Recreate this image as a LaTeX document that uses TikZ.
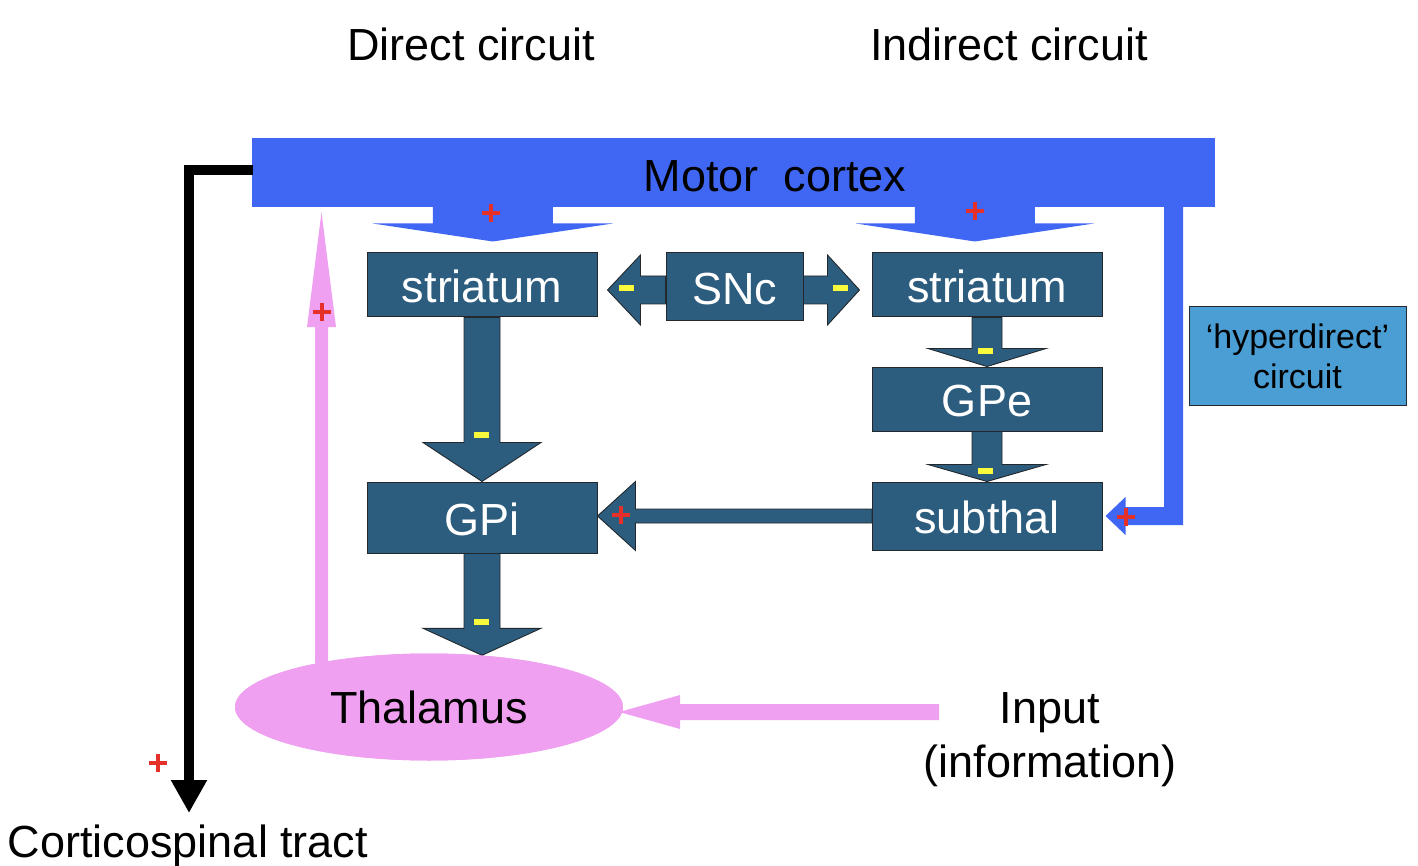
\documentclass[tikz,border=0pt]{standalone}
\usepackage{fontspec}
\setmainfont{Liberation Sans}
\usetikzlibrary{calc,shapes.geometric,arrows.meta}
\definecolor{ctxblue}{RGB}{64,103,244}
\definecolor{tealbox}{RGB}{45,93,126}
\definecolor{edgec}{RGB}{35,40,45}
\definecolor{pinkc}{RGB}{240,160,240}
\definecolor{hypblue}{RGB}{74,158,212}
\definecolor{plusred}{RGB}{228,48,40}
\definecolor{minusyel}{RGB}{250,250,60}
\newcommand\fsz[2]{\fontsize{#1}{#2}\selectfont}
% down-pointing block arrow: style, source, tip, stem half, head half, head length
\newcommand\bdown[6]{\path[#1] let \p1=(#2), \p2=(#3) in
  (\x1-#4pt,\y1) -- (\x1-#4pt,\y2+#6pt) -- (\x1-#5pt,\y2+#6pt) -- (\x1,\y2)
  -- (\x1+#5pt,\y2+#6pt) -- (\x1+#4pt,\y2+#6pt) -- (\x1+#4pt,\y1) -- cycle;}
\newcommand\bup[6]{\path[#1] let \p1=(#2), \p2=(#3) in
  (\x1-#4pt,\y1) -- (\x1-#4pt,\y2-#6pt) -- (\x1-#5pt,\y2-#6pt) -- (\x1,\y2)
  -- (\x1+#5pt,\y2-#6pt) -- (\x1+#4pt,\y2-#6pt) -- (\x1+#4pt,\y1) -- cycle;}
\newcommand\bleft[6]{\path[#1] let \p1=(#2), \p2=(#3) in
  (\x1,\y1+#4pt) -- (\x2+#6pt,\y1+#4pt) -- (\x2+#6pt,\y1+#5pt) -- (\x2,\y1)
  -- (\x2+#6pt,\y1-#5pt) -- (\x2+#6pt,\y1-#4pt) -- (\x1,\y1-#4pt) -- cycle;}
\newcommand\bright[6]{\path[#1] let \p1=(#2), \p2=(#3) in
  (\x1,\y1+#4pt) -- (\x2-#6pt,\y1+#4pt) -- (\x2-#6pt,\y1+#5pt) -- (\x2,\y1)
  -- (\x2-#6pt,\y1-#5pt) -- (\x2-#6pt,\y1-#4pt) -- (\x1,\y1-#4pt) -- cycle;}
\newcommand\pls[1]{\draw[plusline] ($(#1)+(-9,0)$) -- ++(18,0) ($(#1)+(0,-9)$) -- ++(0,18);}
\newcommand\mns[1]{\fill[minusyel] ($(#1)+(-7.5,-3)$) rectangle ++(15,6);}
\tikzset{
  box/.style={draw=edgec, line width=1pt, fill=tealbox, text=white, font=\fsz{45}{54},
    inner sep=0pt, minimum width=230pt, text height=35pt, text depth=0pt},
  blk/.style={fill=tealbox, draw=edgec, line width=0.9pt, line join=miter},
  ctxfill/.style={fill=ctxblue},
  pinkfill/.style={fill=pinkc},
  txt/.style={font=\fsz{45}{54}, inner sep=0pt, text=black},
  plusline/.style={draw=plusred, line width=3.2pt},
  cstline/.style={draw=black, line width=10pt, line join=miter, -{Triangle[length=33pt,width=34pt]}}
}
\begin{document}
\begin{tikzpicture}[x=1pt,y=-1pt]
\fill[white] (0,0) rectangle (1418,866);
\useasboundingbox (0,0) rectangle (1418,866);

% nodes
\node[ctxfill, inner sep=0pt, minimum width=963pt, minimum height=69pt] (cortex) at (733.5,172.5) {};
\node[box, minimum height=64pt] (strL) at (482,285) {striatum};
\node[box, minimum height=64pt] (strR) at (987,285) {striatum};
\node[box, minimum width=137pt, minimum height=68pt] (snc) at (734.5,287) {SNc};
\node[box, minimum height=64pt] (gpe) at (987,399) {GPe};
\node[box, minimum height=71pt] (gpi) at (482,517.5) {GPi};
\node[box, minimum height=68pt] (sub) at (987,516) {subthal};
\node[draw=edgec, line width=1pt, fill=hypblue, inner sep=0pt, minimum width=217pt,
      minimum height=98pt, align=center, font=\fsz{34}{40}] (hyp) at (1297.5,356)
      {‘hyperdirect’\\circuit};
\node[ellipse, fill=pinkc, inner sep=0pt, minimum width=388pt, minimum height=107pt,
      font=\fsz{45}{54}] (thal) at (429,707) {Thalamus};

% cortex outputs
\bdown{ctxfill}{$(cortex.south west)+(241,-1)$}{$(strL.north)+(11,-11)$}{60}{120}{18}
\bdown{ctxfill}{$(cortex.south west)+(723,-1)$}{$(strR.north)+(-12,-11)$}{60}{119}{18}

% hyperdirect
\path[ctxfill] let \p1=($(cortex.south east)+(-41.5,-1)$), \p2=($(sub.east)+(3,0)$) in
  (\x1-9.5pt,\y1) -- (\x1-9.5pt,\y2+9pt) -- (\x2+20pt,\y2+9pt) -- (\x2+20pt,\y2+19pt)
  -- (\x2,\y2) -- (\x2+20pt,\y2-19pt) -- (\x2+20pt,\y2-9pt) -- (\x1+9.5pt,\y2-9pt)
  -- (\x1+9.5pt,\y1) -- cycle;

% corticospinal
\coordinate (cstend) at (189,813);
\draw[cstline] ($(cortex.west)+(1,-2.5)$) -| (cstend);

% basal ganglia block arrows
\bdown{blk}{strL.south}{gpi.north}{18}{59}{39}
\bdown{blk}{gpi.south}{$(thal.north)+(0,2)$}{18}{59}{27}
\bdown{blk}{strR.south}{gpe.north}{15}{59}{18}
\bdown{blk}{gpe.south}{sub.north}{15}{59}{17}
\bleft{blk}{$(snc.west)+(0,3)$}{$(strL.east)+(10,0)$}{14}{35}{33}
\bright{blk}{$(snc.east)+(0,3)$}{$(strR.west)+(-12,0)$}{14}{35}{32}
\bleft{blk}{$(sub.west)+(0.5,0)$}{gpi.east}{7}{34.5}{38}

% redraw boxes on top of arrow joints
\node[box, minimum height=64pt] at (strL) {striatum};
\node[box, minimum height=64pt] at (strR) {striatum};
\node[box, minimum width=137pt, minimum height=68pt] at (snc) {SNc};
\node[box, minimum height=64pt] at (gpe) {GPe};
\node[box, minimum height=71pt] at (gpi) {GPi};
\node[box, minimum height=68pt] at (sub) {subthal};

% thalamus feedback and input
\bup{pinkfill}{$(thal.north)+(-107.5,10)$}{$(cortex.south west)+(70,5)$}{6.5}{14.5}{115}
\coordinate (inputend) at (939,712);
\bleft{pinkfill}{inputend}{$(thal.east)+(-4,5)$}{8}{17}{61}
\node[ellipse, fill=pinkc, inner sep=0pt, minimum width=388pt, minimum height=107pt,
      font=\fsz{45}{54}] at (thal) {Thalamus};

% texts
\node[txt] (tdir) at (471,44) {Direct circuit};
\node[txt] (tind) at (1009,44) {Indirect circuit};
\node[txt] (mclab) at (775,176) {Motor~~cortex};
\node[txt, anchor=base] (cst) at (188,857) {Corticospinal tract};
\node[txt, align=center, font=\fsz{45}{54}, anchor=base] (inp) at (1050,777) {Input\\(information)};

% signs
\pls{491,213}
\pls{975,211}
\pls{322,312}
\pls{621,515}
\pls{1126,517}
\pls{158,763}
\mns{626,288}
\mns{840,288}
\mns{481,435}
\mns{481,622}
\mns{985,351}
\mns{985,471}
\end{tikzpicture}
\end{document}
